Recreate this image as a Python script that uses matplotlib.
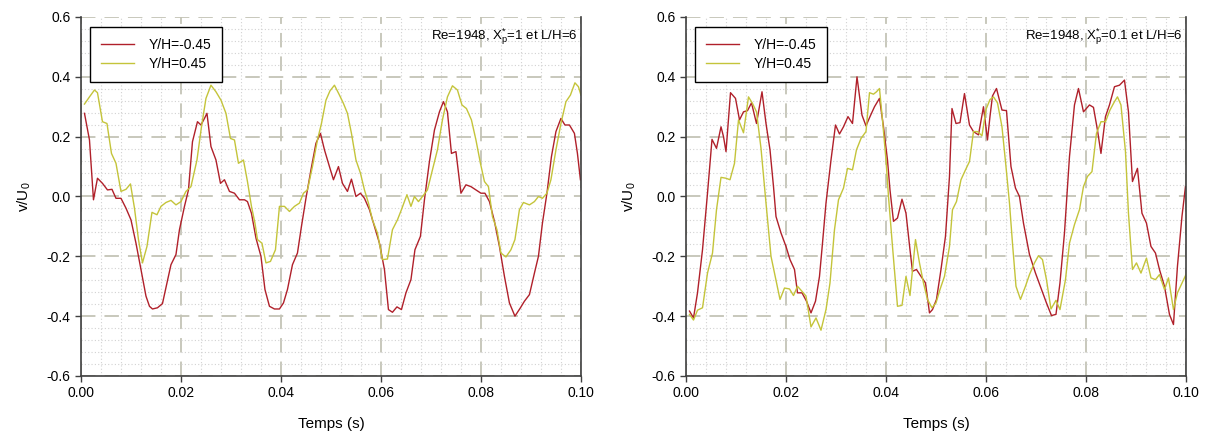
import matplotlib
matplotlib.use("Agg")
import matplotlib.pyplot as plt
import numpy as np
from matplotlib.ticker import MultipleLocator, FormatStrFormatter

plt.rcParams["font.family"] = ["Liberation Sans", "DejaVu Sans"]
plt.rcParams["axes.unicode_minus"] = False
plt.rcParams["mathtext.fontset"] = "custom"
plt.rcParams["mathtext.rm"] = "Liberation Sans"
plt.rcParams["mathtext.it"] = "Liberation Sans:italic"

# ─────────────────────────────────────────────
# Data (time in ms)
# ─────────────────────────────────────────────
# Left panel: Xp* = 1
t1_low = [0.7, 1.7, 2.5, 3.3, 4.3, 5.3, 6.2, 7.0, 8.0, 9.0,
          10.0, 11.0, 12.0, 13.0, 13.7, 14.3, 15.3, 16.3, 17.2, 18.0,
          19.0, 19.7, 20.7, 21.5, 22.3, 23.3, 24.0, 24.7, 25.2, 26.0,
          27.0, 27.9, 28.7, 29.7, 30.7, 31.7, 32.7, 33.3, 34.1, 35.0,
          36.0, 36.8, 37.7, 38.7, 39.7, 40.5, 41.3, 42.3, 43.3, 44.1,
          45.0, 46.0, 47.0, 47.9, 48.7, 49.7, 50.5, 51.5, 52.3, 53.3,
          54.1, 55.0, 55.9, 56.7, 57.7, 58.7, 59.7, 60.7, 61.5, 62.3,
          63.2, 64.1, 65.0, 66.0, 66.8, 67.9, 68.7, 69.7, 70.7, 71.7,
          72.5, 73.3, 74.1, 75.0, 76.0, 77.0, 78.0, 79.0, 80.0, 80.8,
          81.7, 82.7, 83.7, 84.7, 85.7, 86.8, 87.9, 88.7, 89.7, 90.7,
          91.5, 92.3, 93.2, 94.1, 95.0, 96.0, 96.8, 97.7, 98.7, 99.3,
          99.9]
v1_low = [0.278, 0.189, -0.011, 0.061, 0.044, 0.022, 0.024, -0.006, -0.006, -0.039,
          -0.078, -0.156, -0.244, -0.333, -0.367, -0.376, -0.372, -0.358, -0.289, -0.228,
          -0.194, -0.111, -0.033, 0.022, 0.183, 0.25, 0.239, 0.261, 0.278, 0.167,
          0.122, 0.044, 0.056, 0.017, 0.011, -0.011, -0.011, -0.017, -0.056, -0.139,
          -0.2, -0.311, -0.367, -0.376, -0.376, -0.356, -0.311, -0.228, -0.189, -0.1,
          -0.006, 0.089, 0.178, 0.211, 0.156, 0.1, 0.056, 0.1, 0.044, 0.017,
          0.058, 0.0, 0.011, -0.006, -0.044, -0.1, -0.156, -0.244, -0.378, -0.387,
          -0.369, -0.378, -0.322, -0.278, -0.178, -0.133, -0.011, 0.117, 0.222, 0.283,
          0.317, 0.283, 0.144, 0.15, 0.011, 0.039, 0.033, 0.022, 0.011, 0.011,
          -0.017, -0.083, -0.167, -0.267, -0.356, -0.4, -0.372, -0.35, -0.328, -0.256,
          -0.2, -0.089, 0.011, 0.133, 0.217, 0.261, 0.239, 0.239, 0.211, 0.144,
          0.056]
t1_high = [0.7, 1.7, 2.7, 3.3, 4.3, 5.2, 6.1, 7.0, 8.0, 9.0,
           9.9, 10.7, 11.5, 12.3, 13.2, 14.2, 15.2, 16.0, 17.0, 18.0,
           19.0, 20.0, 21.0, 22.0, 23.2, 24.1, 25.0, 26.0, 27.0, 28.0,
           29.0, 29.9, 30.7, 31.5, 32.5, 33.3, 34.1, 34.8, 35.3, 36.2,
           37.0, 37.9, 38.9, 39.7, 40.7, 41.7, 42.7, 43.7, 44.5, 45.3,
           46.3, 47.3, 48.1, 49.0, 49.8, 50.7, 51.7, 52.5, 53.3, 54.1,
           55.0, 55.9, 56.7, 57.5, 58.3, 59.3, 60.3, 61.3, 62.3, 63.3,
           64.1, 65.2, 66.0, 66.7, 67.5, 68.3, 69.3, 70.3, 71.3, 72.3,
           73.3, 74.3, 75.3, 76.2, 77.1, 78.1, 79.0, 79.9, 80.7, 81.5,
           82.3, 83.2, 84.0, 85.0, 86.0, 86.8, 87.7, 88.5, 89.7, 90.7,
           91.5, 92.3, 93.2, 94.0, 95.0, 96.0, 97.0, 97.9, 98.8, 99.5,
           100.0]
v1_high = [0.309, 0.333, 0.356, 0.347, 0.25, 0.244, 0.144, 0.111, 0.017, 0.024,
           0.042, -0.039, -0.144, -0.222, -0.167, -0.053, -0.061, -0.033, -0.02, -0.013,
           -0.028, -0.017, 0.017, 0.033, 0.122, 0.233, 0.328, 0.372, 0.35, 0.322,
           0.278, 0.194, 0.189, 0.111, 0.122, 0.05, -0.033, -0.089, -0.144, -0.156,
           -0.222, -0.217, -0.178, -0.033, -0.033, -0.05, -0.033, -0.022, 0.011, 0.022,
           0.1, 0.189, 0.244, 0.322, 0.353, 0.372, 0.339, 0.311, 0.278, 0.211,
           0.122, 0.078, 0.022, -0.022, -0.078, -0.122, -0.211, -0.209, -0.111, -0.078,
           -0.044, 0.006, -0.033, 0.0, -0.017, 0.0, 0.022, 0.089, 0.156, 0.256,
           0.333, 0.37, 0.356, 0.306, 0.294, 0.256, 0.189, 0.111, 0.05, 0.033,
           -0.067, -0.111, -0.189, -0.202, -0.178, -0.144, -0.044, -0.02, -0.028, -0.017,
           0.0, -0.006, 0.011, 0.056, 0.156, 0.244, 0.317, 0.339, 0.38, 0.367,
           0.339]

# Right panel: Xp* = 0.1
t2_low = [0.7, 1.5, 2.3, 3.3, 4.3, 5.2, 6.1, 7.0, 7.5, 8.0,
          8.9, 9.9, 10.7, 11.5, 12.3, 13.1, 14.1, 15.2, 16.0, 16.8,
          17.5, 18.0, 19.0, 20.0, 20.8, 21.7, 22.3, 23.2, 24.1, 25.0,
          25.9, 26.7, 27.3, 28.0, 29.0, 29.9, 30.7, 31.5, 32.4, 33.3,
          34.2, 35.2, 36.0, 36.8, 37.7, 38.7, 39.5, 40.3, 40.8, 41.5,
          42.3, 43.2, 44.0, 44.8, 45.3, 46.1, 47.0, 47.9, 48.7, 49.3,
          50.1, 51.0, 51.9, 52.7, 53.2, 54.0, 54.8, 55.7, 56.7, 57.5,
          58.5, 59.5, 60.3, 60.8, 61.3, 62.1, 63.2, 64.1, 65.0, 65.9,
          66.7, 67.5, 68.7, 69.9, 71.0, 72.1, 73.1, 74.0, 74.8, 75.7,
          76.7, 77.7, 78.5, 79.5, 80.7, 81.5, 82.3, 83.0, 83.9, 84.7,
          85.7, 86.7, 87.7, 88.5, 89.3, 90.3, 91.2, 92.1, 93.0, 93.9,
          94.7, 95.7, 96.7, 97.5, 98.3, 99.2, 99.9]
v2_low = [-0.383, -0.406, -0.322, -0.178, 0.011, 0.191, 0.161, 0.233, 0.2, 0.15,
          0.347, 0.328, 0.256, 0.283, 0.287, 0.313, 0.244, 0.35, 0.244, 0.156,
          0.033, -0.067, -0.122, -0.167, -0.211, -0.244, -0.322, -0.322, -0.35, -0.389,
          -0.35, -0.267, -0.156, -0.022, 0.122, 0.239, 0.209, 0.233, 0.267, 0.244,
          0.4, 0.272, 0.236, 0.267, 0.3, 0.328, 0.233, 0.122, 0.022, -0.083,
          -0.072, -0.009, -0.056, -0.178, -0.25, -0.244, -0.267, -0.289, -0.389, -0.378,
          -0.344, -0.244, -0.133, 0.067, 0.294, 0.244, 0.247, 0.344, 0.239, 0.217,
          0.206, 0.3, 0.189, 0.267, 0.336, 0.361, 0.289, 0.287, 0.1, 0.028,
          0.0, -0.089, -0.194, -0.256, -0.306, -0.356, -0.398, -0.394, -0.289, -0.122,
          0.133, 0.306, 0.361, 0.283, 0.306, 0.298, 0.222, 0.144, 0.267, 0.306,
          0.367, 0.372, 0.389, 0.283, 0.05, 0.094, -0.056, -0.089, -0.167, -0.189,
          -0.244, -0.3, -0.394, -0.428, -0.233, -0.067, 0.033]
t2_high = [0.7, 1.5, 2.3, 3.3, 4.3, 5.3, 6.1, 7.0, 8.0, 8.8,
           9.7, 10.5, 11.5, 12.5, 13.3, 14.1, 15.0, 16.0, 17.0, 17.9,
           18.8, 19.7, 20.7, 21.5, 22.3, 23.2, 24.0, 25.0, 26.0, 27.0,
           28.0, 28.8, 29.7, 30.5, 31.5, 32.3, 33.3, 34.1, 35.0, 36.0,
           36.7, 37.5, 38.1, 38.7, 39.3, 40.0, 40.5, 41.3, 42.3, 43.2,
           44.0, 44.8, 45.9, 46.7, 47.5, 48.3, 49.2, 50.0, 50.8, 51.7,
           52.7, 53.3, 54.1, 55.0, 55.9, 56.7, 57.5, 58.3, 59.2, 60.0,
           60.8, 61.5, 62.3, 63.2, 64.0, 64.7, 65.3, 66.0, 66.9, 67.9,
           68.7, 69.7, 70.5, 71.3, 72.1, 73.0, 74.0, 74.8, 75.9, 76.7,
           77.7, 78.7, 79.5, 80.3, 81.2, 82.1, 83.0, 83.9, 84.8, 85.7,
           86.3, 87.0, 87.9, 88.5, 89.3, 90.1, 91.0, 92.1, 93.0, 93.9,
           94.7, 95.7, 96.5, 97.5, 98.3, 100.0]
v2_high = [-0.394, -0.413, -0.38, -0.372, -0.256, -0.189, -0.044, 0.064, 0.061, 0.056,
           0.111, 0.256, 0.213, 0.333, 0.311, 0.283, 0.161, -0.022, -0.2, -0.272,
           -0.344, -0.306, -0.309, -0.331, -0.3, -0.317, -0.333, -0.436, -0.406, -0.447,
           -0.378, -0.289, -0.111, -0.011, 0.028, 0.094, 0.089, 0.156, 0.194, 0.217,
           0.347, 0.342, 0.35, 0.361, 0.256, 0.122, 0.0, -0.167, -0.367, -0.364,
           -0.267, -0.331, -0.144, -0.222, -0.289, -0.344, -0.372, -0.356, -0.311, -0.267,
           -0.167, -0.044, -0.017, 0.056, 0.089, 0.117, 0.217, 0.217, 0.203, 0.291,
           0.324, 0.333, 0.313, 0.233, 0.1, -0.022, -0.156, -0.3, -0.344, -0.3,
           -0.261, -0.222, -0.198, -0.211, -0.278, -0.376, -0.347, -0.378, -0.278, -0.156,
           -0.094, -0.044, 0.033, 0.067, 0.083, 0.211, 0.25, 0.25, 0.289, 0.317,
           0.333, 0.306, 0.15, -0.056, -0.244, -0.222, -0.256, -0.206, -0.272, -0.278,
           -0.261, -0.311, -0.272, -0.378, -0.322, -0.261]

labels = ["Y/H=-0.45", "Y/H=0.45"]
notes = [r"Re=1948, X$_{\mathregular{p}}^{\mathregular{*}}$=1 et L/H=6",
         r"Re=1948, X$_{\mathregular{p}}^{\mathregular{*}}$=0.1 et L/H=6"]

RED = "#b0202a"
YEL = "#c4c43a"

# ─────────────────────────────────────────────
# Figure
# ─────────────────────────────────────────────
fig = plt.figure(figsize=(12.05, 4.37), dpi=100)
ax1 = fig.add_axes([0.0672, 0.1396, 0.4149, 0.8215])
ax2 = fig.add_axes([0.5693, 0.1396, 0.4149, 0.8215])

panels = [
    (ax1, t1_low, v1_low, t1_high, v1_high, notes[0]),
    (ax2, t2_low, v2_low, t2_high, v2_high, notes[1]),
]

for ax, ta, va, tb, vb, note in panels:
    ax.plot(np.array(ta) / 1000, va, color=RED, lw=1.0, label=labels[0])
    ax.plot(np.array(tb) / 1000, vb, color=YEL, lw=1.0, label=labels[1])

    ax.set_xlim(0, 0.1)
    ax.set_ylim(-0.6, 0.6)
    ax.xaxis.set_major_locator(MultipleLocator(0.02))
    ax.xaxis.set_minor_locator(MultipleLocator(0.004))
    ax.yaxis.set_major_locator(MultipleLocator(0.2))
    ax.yaxis.set_minor_locator(MultipleLocator(0.04))
    ax.xaxis.set_major_formatter(FormatStrFormatter("%.2f"))
    ax.yaxis.set_major_formatter(FormatStrFormatter("%.1f"))

    ax.grid(which="major", color="#c4c4b6", linestyle=(0, (8, 5)), lw=1.3)
    ax.grid(which="minor", color="#d2d2d2", linestyle=(0, (1, 2)), lw=0.8)
    ax.set_axisbelow(True)

    for side in ["left", "bottom", "right"]:
        ax.spines[side].set_color("#404040")
        ax.spines[side].set_linewidth(1.2)
    ax.spines["top"].set_visible(False)

    ax.tick_params(which="major", direction="out", length=4, width=1,
                   color="#404040", labelsize=10, labelcolor="black")
    ax.tick_params(which="minor", length=0)

    ax.set_xlabel("Temps (s)", fontsize=11, labelpad=12)
    ax.set_ylabel(r"v/U$_0$", fontsize=11, labelpad=10)

    ax.text(0.993, 0.945, note, transform=ax.transAxes, ha="right",
            va="center", fontsize=9.5)

    leg = ax.legend(loc="upper left", bbox_to_anchor=(0.004, 0.992),
                    fontsize=10, fancybox=False, framealpha=1,
                    edgecolor="black", handlelength=2.4, handletextpad=1.0,
                    borderpad=0.8, labelspacing=0.35)
    leg.get_frame().set_linewidth(1.0)

plt.savefig("out.png", dpi=100)
plt.close()
